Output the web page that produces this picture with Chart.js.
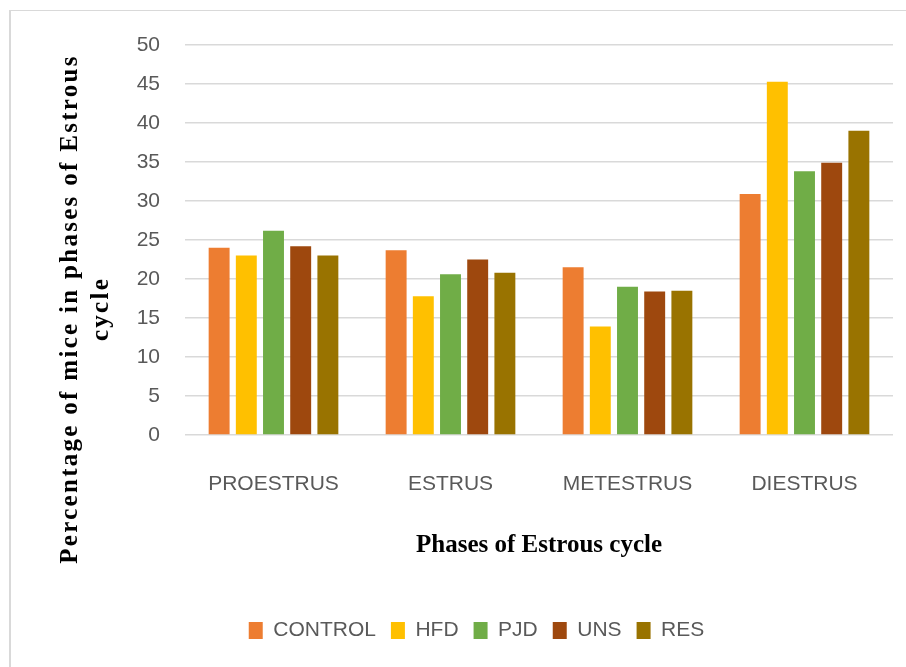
<!DOCTYPE html>
<html>
<head>
<meta charset="utf-8">
<script src="https://cdn.jsdelivr.net/npm/chart.js@4"></script>
<style>
    html, body { margin: 0; padding: 0; background: #fff; }
    #wrap { position: relative; width: 906px; height: 667px; overflow: hidden; }
    #frame { position: absolute; left: 9px; top: 10px; width: 900px; height: 670px;
             border-left: 2px solid #d9d9d9; border-top: 1px solid #d9d9d9; }
    canvas { position: absolute; left: 0; top: 0; }
</style>
</head>
<body>
<div id="wrap">
    <div id="frame"></div>
    <canvas id="estrous-chart" width="906" height="667"></canvas>
</div>
<script>
const phases = ["PROESTRUS", "ESTRUS", "METESTRUS", "DIESTRUS"];
const control = [24, 23.7, 21.5, 30.9];
const hfd = [23, 17.8, 13.9, 45.3];
const pjd = [26.2, 20.6, 19, 33.8];
const uns = [24.2, 22.5, 18.4, 34.9];
const res = [23, 20.8, 18.5, 39];
const yTitleLines = ["Percentage of mice in phases of Estrous", "cycle"];
const xTitle = "Phases of Estrous cycle";

(function () {
    const ctx = document.getElementById('estrous-chart');
    const labelFont = { family: "'Liberation Sans', Arial, sans-serif", size: 21 };
    const grey = '#595959';

    const series = [
        { label: "CONTROL", data: control, color: "#ED7D31" },
        { label: "HFD", data: hfd, color: "#FFC000" },
        { label: "PJD", data: pjd, color: "#70AD47" },
        { label: "UNS", data: uns, color: "#9E480E" },
        { label: "RES", data: res, color: "#997300" },
    ];

    // rotated y title sits lower than the plot centre, so draw it by hand
    const yTitlePlugin = {
        id: 'yTitle',
        afterDraw(chart) {
            const c = chart.ctx;
            c.save();
            c.fillStyle = '#000';
            c.font = "bold 25px 'Liberation Serif', 'Times New Roman', serif";
            c.letterSpacing = '2.3px';
            c.textAlign = 'center';
            c.textBaseline = 'alphabetic';
            [[77, yTitleLines[0]], [108, yTitleLines[1]]].forEach(([x, text]) => {
                c.save();
                c.translate(x, 309);
                c.rotate(-Math.PI / 2);
                c.fillText(text, 0, 0);
                c.restore();
            });
            c.restore();
        }
    };

    new Chart(ctx, {
        type: 'bar',
        data: {
            labels: phases,
            datasets: series.map(s => ({
                label: s.label,
                data: s.data,
                backgroundColor: s.color,
                borderWidth: 0,
                categoryPercentage: 0.768,
                barPercentage: 0.77,
            })),
        },
        options: {
            responsive: false,
            animation: false,
            layout: {
                padding: { left: 60, right: 13, top: 45, bottom: 16 },
            },
            scales: {
                x: {
                    grid: { display: false },
                    border: { display: false },
                    ticks: { color: grey, font: labelFont, padding: 29 },
                    title: {
                        display: true,
                        text: xTitle,
                        color: '#000',
                        font: { family: "'Liberation Serif', 'Times New Roman', serif", size: 25, weight: 'bold' },
                        padding: { top: 0, bottom: 44 },
                    },
                    afterFit(scale) { scale.height = 170; },
                },
                y: {
                    min: 0,
                    max: 50,
                    ticks: { stepSize: 5, color: grey, font: labelFont, padding: 25 },
                    grid: { color: '#d9d9d9', lineWidth: 1.5, drawTicks: false },
                    border: { display: false },
                    afterFit(scale) { scale.width = 125; },
                },
            },
            plugins: {
                legend: {
                    position: 'bottom',
                    labels: {
                        color: grey,
                        font: labelFont,
                        boxWidth: 14,
                        boxHeight: 17,
                        padding: 15,
                    },
                },
                tooltip: { enabled: false },
            },
        },
        plugins: [yTitlePlugin],
    });
})();
</script>
</body>
</html>
